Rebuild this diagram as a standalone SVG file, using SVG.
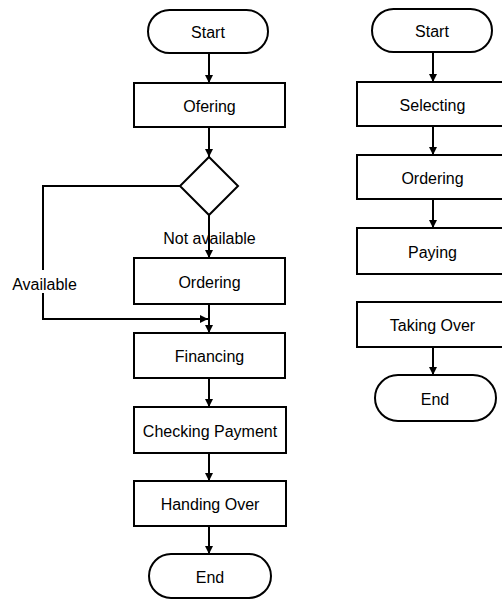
<svg xmlns="http://www.w3.org/2000/svg" width="502" height="599" viewBox="0 0 502 599">
<defs>
<marker id="ah" markerWidth="8" markerHeight="8" refX="8" refY="4" orient="auto" markerUnits="userSpaceOnUse">
<path d="M0,0 L8,4 L0,8 Z" fill="#000"/>
</marker>
</defs>
<style>
.n{fill:#fff;stroke:#000;stroke-width:2}
.t{font-family:"Liberation Sans",Arial,sans-serif;font-size:16px;fill:#000;text-anchor:middle}
.c{fill:none;stroke:#000;stroke-width:2}
</style>
<rect width="502" height="599" fill="#fff"/>
<g id="connectors">
<line class="c" x1="209" y1="53" x2="209" y2="83" marker-end="url(#ah)"/>
<line class="c" x1="209" y1="127" x2="209" y2="157" marker-end="url(#ah)"/>
<line class="c" x1="209" y1="215" x2="209" y2="258" marker-end="url(#ah)"/>
<polyline class="c" points="180,186 43,186 43,270"/>
<polyline class="c" points="43,293 43,319 208,319" marker-end="url(#ah)"/>
<line class="c" x1="209" y1="304" x2="209" y2="333" marker-end="url(#ah)"/>
<line class="c" x1="209" y1="378" x2="209" y2="407" marker-end="url(#ah)"/>
<line class="c" x1="209" y1="453" x2="209" y2="481" marker-end="url(#ah)"/>
<line class="c" x1="209" y1="526" x2="209" y2="554" marker-end="url(#ah)"/>
<line class="c" x1="433" y1="52" x2="433" y2="82" marker-end="url(#ah)"/>
<line class="c" x1="433" y1="126" x2="433" y2="155" marker-end="url(#ah)"/>
<line class="c" x1="433" y1="199" x2="433" y2="228" marker-end="url(#ah)"/>
<line class="c" x1="433" y1="347" x2="433" y2="375" marker-end="url(#ah)"/>
<text class="t" x="209.5" y="244">Not available</text>
<text class="t" x="44.5" y="290">Available</text>
</g>
<g id="start1"><rect class="n" x="148" y="10" width="120" height="43" rx="21.5"/><text class="t" x="208" y="38">Start</text></g>
<g id="ofering"><rect class="n" x="134" y="83" width="151" height="44"/><text class="t" x="209.5" y="112">Ofering</text></g>
<g id="decision"><polygon class="n" points="209,157 238,186 209,215 180,186"/></g>
<g id="ordering1"><rect class="n" x="134" y="258" width="151" height="46"/><text class="t" x="209.5" y="288">Ordering</text></g>
<g id="financing"><rect class="n" x="134" y="333" width="151" height="45"/><text class="t" x="209.5" y="362">Financing</text></g>
<g id="checking"><rect class="n" x="134" y="407" width="152" height="46"/><text class="t" x="210" y="437">Checking Payment</text></g>
<g id="handing"><rect class="n" x="134" y="481" width="152" height="45"/><text class="t" x="210" y="510">Handing Over</text></g>
<g id="end1"><rect class="n" x="149" y="554" width="122" height="44" rx="22"/><text class="t" x="210" y="583">End</text></g>
<g id="start2"><rect class="n" x="372" y="9" width="120" height="43" rx="21.5"/><text class="t" x="432" y="37">Start</text></g>
<g id="selecting"><rect class="n" x="357" y="82" width="151" height="44"/><text class="t" x="432.5" y="111">Selecting</text></g>
<g id="ordering2"><rect class="n" x="357" y="155" width="151" height="44"/><text class="t" x="432.5" y="184">Ordering</text></g>
<g id="paying"><rect class="n" x="357" y="228" width="151" height="46"/><text class="t" x="432.5" y="258">Paying</text></g>
<g id="takingover"><rect class="n" x="357" y="302" width="151" height="45"/><text class="t" x="432.5" y="331">Taking Over</text></g>
<g id="end2"><rect class="n" x="375" y="375" width="121" height="46" rx="23"/><text class="t" x="435" y="405">End</text></g>
</svg>
